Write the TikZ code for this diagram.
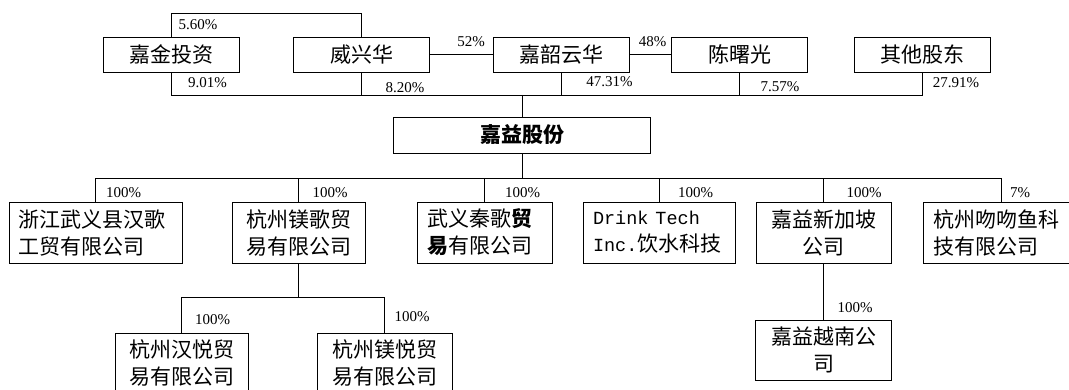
\documentclass[tikz,border=0pt]{standalone}
\usepackage{fontspec}
\setmainfont{Liberation Serif}
\newfontfamily\cjk{Noto Sans CJK SC}
\newfontfamily\mono{Liberation Mono}
\usetikzlibrary{calc}
\tikzstyle{holder}=[draw, line width=0.8pt, minimum width=136pt, minimum height=35pt, inner sep=0pt, font=\cjk\fontsize{21}{27}\selectfont]
\tikzstyle{company}=[draw, line width=0.8pt, minimum height=61pt, inner xsep=10pt, inner ysep=0pt, font=\cjk\fontsize{21}{27}\selectfont]
\tikzstyle{share}=[font=\fontsize{15}{18}\selectfont, inner sep=0pt]
\tikzstyle{link}=[draw, line width=0.8pt]

\begin{document}
\begin{tikzpicture}[x=1pt, y=-1pt]

    \useasboundingbox (0,0) rectangle (1069,390);
    \clip (0,0) rectangle (1069,390);

    % shareholders
    \foreach \x/\name/\txt in {171/jj/嘉金投资, 361.5/wxh/威兴华, 561/jsyh/嘉韶云华, 739.5/csg/陈曙光, 922.5/qt/其他股东}
        \node[holder] (\name) at (\x, 54.5) {\txt};

    \node[holder, minimum width=257pt, minimum height=36pt, font=\cjk\bfseries\fontsize{21}{27}\selectfont] (jygf) at (522, 135) {嘉益股份};

    % subsidiaries
    \foreach \x/\tw/\name/\txt in {95.5/153/zj/{浙江武义县汉歌\\工贸有限公司}, 484.5/115/qg/{武义秦歌{\bfseries 贸}\\{\bfseries 易}有限公司}, 659/132/dt/{{\mono\fontsize{18.5}{27}\selectfont Drink Tech}\\{\mono\fontsize{18.5}{27}\selectfont Inc.}饮水科技}, 1001/136/ww/{杭州吻吻鱼科\\技有限公司}}
        \node[company, align=left, text width=\tw pt] (\name) at (\x, 232.5) {\txt};

    \foreach \x/\w/\name/\txt in {298.5/133/mg/{杭州镁歌贸\\易有限公司}, 823.5/135/sg/{嘉益新加坡\\公司}}
        \node[company, align=center, minimum width=\w pt] (\name) at (\x, 232.5) {\txt};

    \foreach \x/\y/\w/\name/\txt in {181.5/363/133/hy/{杭州汉悦贸\\易有限公司}, 384.5/363/135/my/{杭州镁悦贸\\易有限公司}, 823.5/350/136/vn/{嘉益越南公\\司}}
        \node[company, align=center, minimum width=\w pt, minimum height=60pt] (\name) at (\x, \y) {\txt};

    % buses
    \coordinate (loop) at (171, 13);
    \coordinate (topbus) at (522, 95);
    \coordinate (midbus) at (522, 178);
    \coordinate (lowbus) at (298.5, 297);

    \path[link] (jj.north) |- (loop) -| (wxh.north);
    \path[link] (wxh.east) -- (jsyh.west);
    \path[link] (jsyh.east) -- (csg.west);

    \foreach \name in {jj, wxh, jsyh, csg, qt}
        \path[link] (\name.south) |- (topbus);
    \path[link] (topbus) -- (jygf.north);

    \path[link] (jygf.south) -- (midbus);
    \foreach \name in {zj, mg, qg, dt, sg, ww}
        \path[link] (midbus) -| (\name.north);

    \path[link] (mg.south) -- (lowbus);
    \foreach \name in {hy, my}
        \path[link] (lowbus) -| (\name.north);
    \path[link] (sg.south) -- (vn.north);

    % percentages
    \foreach \x/\y/\name/\p in {198/25/pjw/5.60, 207.5/83/pjj/9.01, 405/88/pwx/8.20, 471/42/pwj/52, 652.5/42/pjc/48, 609.5/82/pjs/47.31, 780/87/pcs/7.57, 956/83/pqt/27.91, 123.5/193/pzj/100, 330/193/pmg/100, 522.5/193/pqg/100, 695.5/193/pdt/100, 864/193/psg/100, 1020/193/pww/7, 212.5/320/phy/100, 412/317/pmy/100, 855/308/pvn/100}
        \node[share] (\name) at (\x, \y) {\p\%};

\end{tikzpicture}
\end{document}
